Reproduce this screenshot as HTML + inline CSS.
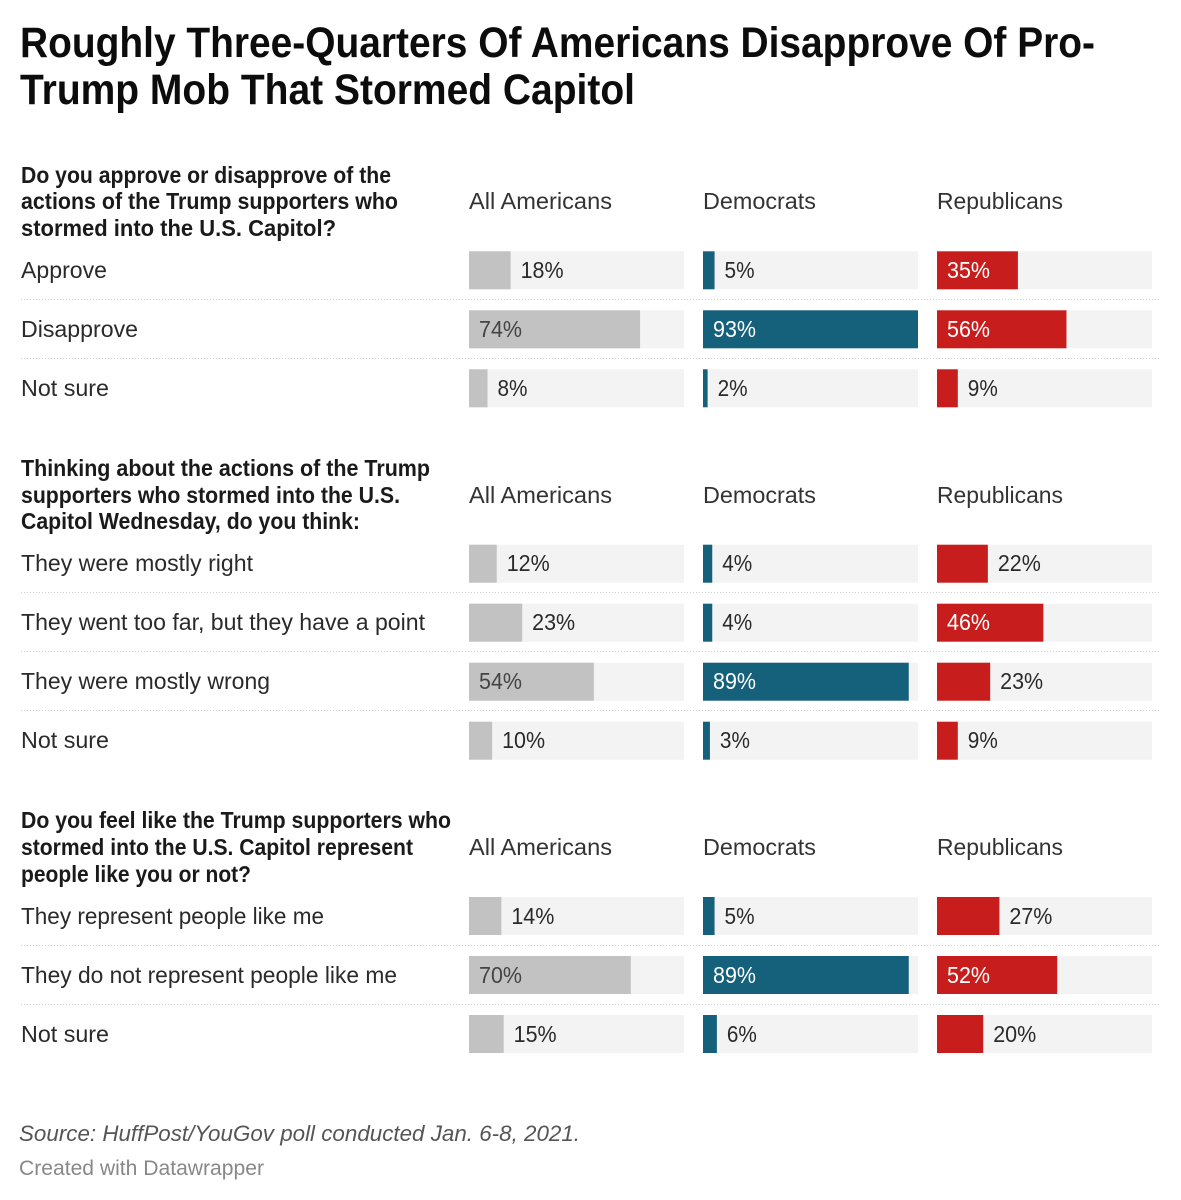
<!DOCTYPE html>
<html lang="en">
<head>
<meta charset="utf-8">
<title>Roughly Three-Quarters Of Americans Disapprove Of Pro-Trump Mob That Stormed Capitol</title>
<style>
html,body{margin:0;padding:0;background:#fff;width:1181px;height:1200px;overflow:hidden}
svg{display:block}
text{font-family:"Liberation Sans",sans-serif;fill:#2a2a2a}
.title{font-size:43px;font-weight:700;fill:#0c0c0c}
.question{font-size:23.5px;font-weight:700;fill:#1a1a1a}
.label{font-size:23.5px}
.head{font-size:23.5px;fill:#333}
.value{font-size:23px}
.source{font-size:22.5px;font-style:italic;fill:#555}
.credit{font-size:21px;fill:#888}
</style>
</head>
<body>
<svg id="chart" xmlns="http://www.w3.org/2000/svg" width="1181" height="1200" viewBox="0 0 1181 1200">
<text class="title" x="20" y="57" textLength="1075" lengthAdjust="spacingAndGlyphs">Roughly Three-Quarters Of Americans Disapprove Of Pro-</text>
<text class="title" x="20" y="104" textLength="615" lengthAdjust="spacingAndGlyphs">Trump Mob That Stormed Capitol</text>

<text class="question" x="21" y="183" textLength="370" lengthAdjust="spacingAndGlyphs">Do you approve or disapprove of the</text>
<text class="question" x="21" y="209" textLength="377" lengthAdjust="spacingAndGlyphs">actions of the Trump supporters who</text>
<text class="question" x="21" y="236" textLength="315" lengthAdjust="spacingAndGlyphs">stormed into the U.S. Capitol?</text>

<text class="question" x="21" y="476" textLength="409" lengthAdjust="spacingAndGlyphs">Thinking about the actions of the Trump</text>
<text class="question" x="21" y="503" textLength="379" lengthAdjust="spacingAndGlyphs">supporters who stormed into the U.S.</text>
<text class="question" x="21" y="529" textLength="339" lengthAdjust="spacingAndGlyphs">Capitol Wednesday, do you think:</text>

<text class="question" x="21" y="828" textLength="430" lengthAdjust="spacingAndGlyphs">Do you feel like the Trump supporters who</text>
<text class="question" x="21" y="855" textLength="392" lengthAdjust="spacingAndGlyphs">stormed into the U.S. Capitol represent</text>
<text class="question" x="21" y="882" textLength="230" lengthAdjust="spacingAndGlyphs">people like you or not?</text>

<g id="marks"></g>

<text class="source" x="19" y="1141" textLength="561" lengthAdjust="spacingAndGlyphs">Source: HuffPost/YouGov poll conducted Jan. 6-8, 2021.</text>
<text class="credit" x="19" y="1175" textLength="245" lengthAdjust="spacingAndGlyphs">Created with Datawrapper</text>
</svg>
<script>
// Data
const columnNames = ["All Americans", "Democrats", "Republicans"];
const q1Labels = ["Approve", "Disapprove", "Not sure"];
const q1All = [18, 74, 8];
const q1Dem = [5, 93, 2];
const q1Rep = [35, 56, 9];
const q2Labels = ["They were mostly right", "They went too far, but they have a point", "They were mostly wrong", "Not sure"];
const q2All = [12, 23, 54, 10];
const q2Dem = [4, 4, 89, 3];
const q2Rep = [22, 46, 23, 9];
const q3Labels = ["They represent people like me", "They do not represent people like me", "Not sure"];
const q3All = [14, 70, 15];
const q3Dem = [5, 89, 6];
const q3Rep = [27, 52, 20];
const domainMax = 93;

// Layout
const NS = "http://www.w3.org/2000/svg";
const root = document.getElementById("marks");
const colX = [469, 703, 937];
const colFill = ["#c2c2c2", "#15607a", "#c71e1d"];
const colText = ["#444444", "#ffffff", "#ffffff"];
const trackW = 215, barH = 38, rowStep = 59;
const xScale = v => v / domainMax * trackW;
const labelLengths = {
  "Approve": 86, "Disapprove": 117, "Not sure": 88,
  "They were mostly right": 232,
  "They went too far, but they have a point": 404,
  "They were mostly wrong": 249,
  "They represent people like me": 303,
  "They do not represent people like me": 376
};
const headLengths = [143, 113, 126];

function node(tag, attrs, txt) {
  const el = document.createElementNS(NS, tag);
  for (const k in attrs) el.setAttribute(k, attrs[k]);
  if (txt !== undefined) el.textContent = txt;
  root.appendChild(el);
  return el;
}

function drawQuestion(qi, headBase, firstCenter, labels, seriesList) {
  columnNames.forEach((name, c) => {
    const h = node("text", {class: "head", x: colX[c], y: headBase, textLength: headLengths[c], lengthAdjust: "spacingAndGlyphs"}, name);
    
    
  });
  labels.forEach((label, r) => {
    const cy = firstCenter + r * rowStep;
    const t = node("text", {class: "label", x: 21, y: Math.round(cy + 7.7), textLength: labelLengths[label], lengthAdjust: "spacingAndGlyphs"}, label);
    
    
    if (r < labels.length - 1) {
      const sepY = Math.floor(cy + 29) + 0.5;
      const sep = node("line", {x1: 21, x2: 1160, y1: sepY, y2: sepY, stroke: "#d0d0d0", "stroke-width": 1, "stroke-dasharray": "1 2"});
      
      
    }
    seriesList.forEach((series, c) => {
      const v = series[r];
      const top = cy - barH / 2;
      const track = node("rect", {x: colX[c], y: top, width: trackW, height: barH, fill: "#f3f3f3"});
      
      
      const w = xScale(v);
      const bar = node("rect", {x: colX[c], y: top, width: w, height: barH, fill: colFill[c]});
      
      
      const inside = v >= 30;
      const val = node("text", {
        class: "value",
        x: inside ? colX[c] + 10 : colX[c] + w + 10,
        y: Math.round(cy + 7.7),
        textLength: String(v).length > 1 ? 43 : 30,
        lengthAdjust: "spacingAndGlyphs",
        style: "fill:" + (inside ? colText[c] : "#2a2a2a")
      }, v + "%");
      
      
    });
  });
}

drawQuestion(1, 209, 270.3, q1Labels, [q1All, q1Dem, q1Rep]);
drawQuestion(2, 503, 563.7, q2Labels, [q2All, q2Dem, q2Rep]);
drawQuestion(3, 855, 916, q3Labels, [q3All, q3Dem, q3Rep]);
</script>
</body>
</html>
